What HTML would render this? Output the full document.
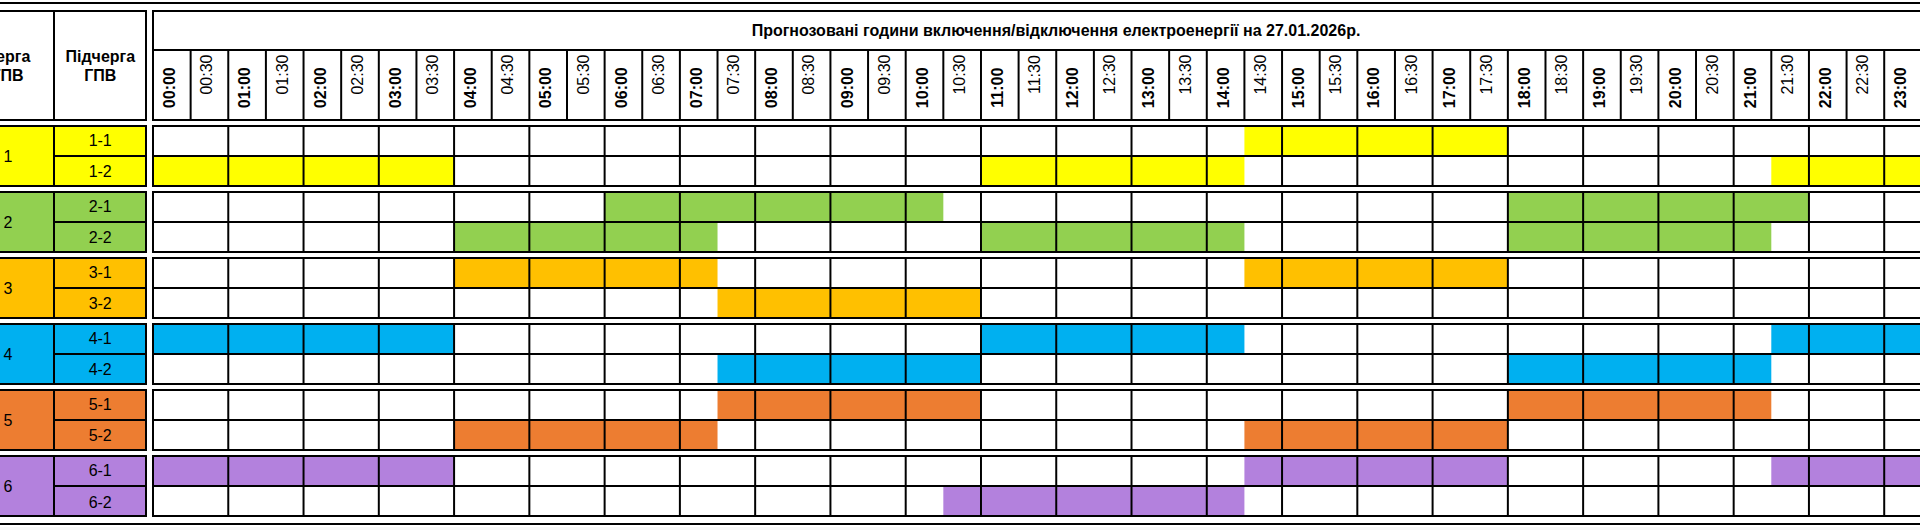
<!DOCTYPE html>
<html lang="uk"><head><meta charset="utf-8"><title>Графік погодинних відключень</title>
<style>
html,body{margin:0;padding:0;background:#fff;}
body{width:1920px;height:530px;overflow:hidden;position:relative;font-family:"Liberation Sans",Arial,sans-serif;}
svg{position:absolute;left:0;top:0;display:block}
text{font-family:"Liberation Sans",Arial,sans-serif;font-size:16px;fill:#000}
.b{font-weight:bold;fill:#000}
.ln{stroke:#000;stroke-width:2;fill:none}
</style></head><body>
<svg width="1920" height="530" viewBox="0 0 1920 530">
<rect x="0" y="0" width="1920" height="530" fill="#fff"/>
<rect x="0" y="527" width="1920" height="3" fill="#f7f7f7"/>
<rect x="-40" y="126.0" width="186" height="60" fill="#FFFF00"/>
<rect x="1244.41" y="126.0" width="263.44" height="30" fill="#FFFF00"/>
<rect x="153.00" y="156.0" width="301.08" height="30" fill="#FFFF00"/>
<rect x="980.97" y="156.0" width="263.45" height="30" fill="#FFFF00"/>
<rect x="1771.30" y="156.0" width="188.18" height="30" fill="#FFFF00"/>
<rect x="-40" y="192.0" width="186" height="60" fill="#92D050"/>
<rect x="604.62" y="192.0" width="338.71" height="30" fill="#92D050"/>
<rect x="1507.86" y="192.0" width="301.08" height="30" fill="#92D050"/>
<rect x="454.08" y="222.0" width="263.44" height="30" fill="#92D050"/>
<rect x="980.97" y="222.0" width="263.45" height="30" fill="#92D050"/>
<rect x="1507.86" y="222.0" width="263.44" height="30" fill="#92D050"/>
<rect x="-40" y="258.0" width="186" height="60" fill="#FFC000"/>
<rect x="454.08" y="258.0" width="263.44" height="30" fill="#FFC000"/>
<rect x="1244.41" y="258.0" width="263.44" height="30" fill="#FFC000"/>
<rect x="717.52" y="288.0" width="263.44" height="30" fill="#FFC000"/>
<rect x="-40" y="324.0" width="186" height="60" fill="#00B0F0"/>
<rect x="153.00" y="324.0" width="301.08" height="30" fill="#00B0F0"/>
<rect x="980.97" y="324.0" width="263.45" height="30" fill="#00B0F0"/>
<rect x="1771.30" y="324.0" width="188.18" height="30" fill="#00B0F0"/>
<rect x="717.52" y="354.0" width="263.44" height="30" fill="#00B0F0"/>
<rect x="1507.86" y="354.0" width="263.44" height="30" fill="#00B0F0"/>
<rect x="-40" y="390.0" width="186" height="60" fill="#ED7D31"/>
<rect x="717.52" y="390.0" width="263.44" height="30" fill="#ED7D31"/>
<rect x="1507.86" y="390.0" width="263.44" height="30" fill="#ED7D31"/>
<rect x="454.08" y="420.0" width="263.44" height="30" fill="#ED7D31"/>
<rect x="1244.41" y="420.0" width="263.44" height="30" fill="#ED7D31"/>
<rect x="-40" y="456.0" width="186" height="60" fill="#B381DD"/>
<rect x="153.00" y="456.0" width="301.08" height="30" fill="#B381DD"/>
<rect x="1244.41" y="456.0" width="263.44" height="30" fill="#B381DD"/>
<rect x="1771.30" y="456.0" width="188.18" height="30" fill="#B381DD"/>
<rect x="943.33" y="486.0" width="301.08" height="30" fill="#B381DD"/>
<line class="ln" x1="-10" y1="3" x2="1930" y2="3"/>
<line class="ln" x1="-10" y1="524" x2="1930" y2="524"/>
<line class="ln" x1="-10" y1="11" x2="147" y2="11"/>
<line class="ln" x1="-10" y1="120" x2="147" y2="120"/>
<line class="ln" x1="54.00" y1="10" x2="54.00" y2="121"/>
<line class="ln" x1="146.00" y1="10" x2="146.00" y2="121"/>
<line class="ln" x1="152" y1="11" x2="1930" y2="11"/>
<line class="ln" x1="152" y1="50" x2="1930" y2="50"/>
<line class="ln" x1="152" y1="120" x2="1930" y2="120"/>
<line class="ln" x1="153.00" y1="10" x2="153.00" y2="121"/>
<line class="ln" x1="190.63" y1="50" x2="190.63" y2="121"/>
<line class="ln" x1="228.27" y1="50" x2="228.27" y2="121"/>
<line class="ln" x1="265.90" y1="50" x2="265.90" y2="121"/>
<line class="ln" x1="303.54" y1="50" x2="303.54" y2="121"/>
<line class="ln" x1="341.17" y1="50" x2="341.17" y2="121"/>
<line class="ln" x1="378.81" y1="50" x2="378.81" y2="121"/>
<line class="ln" x1="416.44" y1="50" x2="416.44" y2="121"/>
<line class="ln" x1="454.08" y1="50" x2="454.08" y2="121"/>
<line class="ln" x1="491.71" y1="50" x2="491.71" y2="121"/>
<line class="ln" x1="529.35" y1="50" x2="529.35" y2="121"/>
<line class="ln" x1="566.98" y1="50" x2="566.98" y2="121"/>
<line class="ln" x1="604.62" y1="50" x2="604.62" y2="121"/>
<line class="ln" x1="642.25" y1="50" x2="642.25" y2="121"/>
<line class="ln" x1="679.89" y1="50" x2="679.89" y2="121"/>
<line class="ln" x1="717.52" y1="50" x2="717.52" y2="121"/>
<line class="ln" x1="755.16" y1="50" x2="755.16" y2="121"/>
<line class="ln" x1="792.79" y1="50" x2="792.79" y2="121"/>
<line class="ln" x1="830.43" y1="50" x2="830.43" y2="121"/>
<line class="ln" x1="868.06" y1="50" x2="868.06" y2="121"/>
<line class="ln" x1="905.70" y1="50" x2="905.70" y2="121"/>
<line class="ln" x1="943.33" y1="50" x2="943.33" y2="121"/>
<line class="ln" x1="980.97" y1="50" x2="980.97" y2="121"/>
<line class="ln" x1="1018.60" y1="50" x2="1018.60" y2="121"/>
<line class="ln" x1="1056.24" y1="50" x2="1056.24" y2="121"/>
<line class="ln" x1="1093.88" y1="50" x2="1093.88" y2="121"/>
<line class="ln" x1="1131.51" y1="50" x2="1131.51" y2="121"/>
<line class="ln" x1="1169.14" y1="50" x2="1169.14" y2="121"/>
<line class="ln" x1="1206.78" y1="50" x2="1206.78" y2="121"/>
<line class="ln" x1="1244.41" y1="50" x2="1244.41" y2="121"/>
<line class="ln" x1="1282.05" y1="50" x2="1282.05" y2="121"/>
<line class="ln" x1="1319.68" y1="50" x2="1319.68" y2="121"/>
<line class="ln" x1="1357.32" y1="50" x2="1357.32" y2="121"/>
<line class="ln" x1="1394.95" y1="50" x2="1394.95" y2="121"/>
<line class="ln" x1="1432.59" y1="50" x2="1432.59" y2="121"/>
<line class="ln" x1="1470.22" y1="50" x2="1470.22" y2="121"/>
<line class="ln" x1="1507.86" y1="50" x2="1507.86" y2="121"/>
<line class="ln" x1="1545.49" y1="50" x2="1545.49" y2="121"/>
<line class="ln" x1="1583.13" y1="50" x2="1583.13" y2="121"/>
<line class="ln" x1="1620.76" y1="50" x2="1620.76" y2="121"/>
<line class="ln" x1="1658.40" y1="50" x2="1658.40" y2="121"/>
<line class="ln" x1="1696.03" y1="50" x2="1696.03" y2="121"/>
<line class="ln" x1="1733.67" y1="50" x2="1733.67" y2="121"/>
<line class="ln" x1="1771.30" y1="50" x2="1771.30" y2="121"/>
<line class="ln" x1="1808.94" y1="50" x2="1808.94" y2="121"/>
<line class="ln" x1="1846.57" y1="50" x2="1846.57" y2="121"/>
<line class="ln" x1="1884.21" y1="50" x2="1884.21" y2="121"/>
<line class="ln" x1="1921.84" y1="50" x2="1921.84" y2="121"/>
<line class="ln" x1="-10" y1="126.0" x2="147" y2="126.0"/>
<line class="ln" x1="-10" y1="186.0" x2="147" y2="186.0"/>
<line class="ln" x1="54" y1="156.0" x2="147" y2="156.0"/>
<line class="ln" x1="54.00" y1="125.0" x2="54.00" y2="187.0"/>
<line class="ln" x1="146.00" y1="125.0" x2="146.00" y2="187.0"/>
<line class="ln" x1="152" y1="126.0" x2="1930" y2="126.0"/>
<line class="ln" x1="152" y1="156.0" x2="1930" y2="156.0"/>
<line class="ln" x1="152" y1="186.0" x2="1930" y2="186.0"/>
<line class="ln" x1="153.00" y1="125.0" x2="153.00" y2="187.0"/>
<line class="ln" x1="228.27" y1="125.0" x2="228.27" y2="187.0"/>
<line class="ln" x1="303.54" y1="125.0" x2="303.54" y2="187.0"/>
<line class="ln" x1="378.81" y1="125.0" x2="378.81" y2="187.0"/>
<line class="ln" x1="454.08" y1="125.0" x2="454.08" y2="187.0"/>
<line class="ln" x1="529.35" y1="125.0" x2="529.35" y2="187.0"/>
<line class="ln" x1="604.62" y1="125.0" x2="604.62" y2="187.0"/>
<line class="ln" x1="679.89" y1="125.0" x2="679.89" y2="187.0"/>
<line class="ln" x1="755.16" y1="125.0" x2="755.16" y2="187.0"/>
<line class="ln" x1="830.43" y1="125.0" x2="830.43" y2="187.0"/>
<line class="ln" x1="905.70" y1="125.0" x2="905.70" y2="187.0"/>
<line class="ln" x1="980.97" y1="125.0" x2="980.97" y2="187.0"/>
<line class="ln" x1="1056.24" y1="125.0" x2="1056.24" y2="187.0"/>
<line class="ln" x1="1131.51" y1="125.0" x2="1131.51" y2="187.0"/>
<line class="ln" x1="1206.78" y1="125.0" x2="1206.78" y2="187.0"/>
<line class="ln" x1="1282.05" y1="125.0" x2="1282.05" y2="187.0"/>
<line class="ln" x1="1357.32" y1="125.0" x2="1357.32" y2="187.0"/>
<line class="ln" x1="1432.59" y1="125.0" x2="1432.59" y2="187.0"/>
<line class="ln" x1="1507.86" y1="125.0" x2="1507.86" y2="187.0"/>
<line class="ln" x1="1583.13" y1="125.0" x2="1583.13" y2="187.0"/>
<line class="ln" x1="1658.40" y1="125.0" x2="1658.40" y2="187.0"/>
<line class="ln" x1="1733.67" y1="125.0" x2="1733.67" y2="187.0"/>
<line class="ln" x1="1808.94" y1="125.0" x2="1808.94" y2="187.0"/>
<line class="ln" x1="1884.21" y1="125.0" x2="1884.21" y2="187.0"/>
<line class="ln" x1="1959.48" y1="125.0" x2="1959.48" y2="187.0"/>
<line class="ln" x1="-10" y1="192.0" x2="147" y2="192.0"/>
<line class="ln" x1="-10" y1="252.0" x2="147" y2="252.0"/>
<line class="ln" x1="54" y1="222.0" x2="147" y2="222.0"/>
<line class="ln" x1="54.00" y1="191.0" x2="54.00" y2="253.0"/>
<line class="ln" x1="146.00" y1="191.0" x2="146.00" y2="253.0"/>
<line class="ln" x1="152" y1="192.0" x2="1930" y2="192.0"/>
<line class="ln" x1="152" y1="222.0" x2="1930" y2="222.0"/>
<line class="ln" x1="152" y1="252.0" x2="1930" y2="252.0"/>
<line class="ln" x1="153.00" y1="191.0" x2="153.00" y2="253.0"/>
<line class="ln" x1="228.27" y1="191.0" x2="228.27" y2="253.0"/>
<line class="ln" x1="303.54" y1="191.0" x2="303.54" y2="253.0"/>
<line class="ln" x1="378.81" y1="191.0" x2="378.81" y2="253.0"/>
<line class="ln" x1="454.08" y1="191.0" x2="454.08" y2="253.0"/>
<line class="ln" x1="529.35" y1="191.0" x2="529.35" y2="253.0"/>
<line class="ln" x1="604.62" y1="191.0" x2="604.62" y2="253.0"/>
<line class="ln" x1="679.89" y1="191.0" x2="679.89" y2="253.0"/>
<line class="ln" x1="755.16" y1="191.0" x2="755.16" y2="253.0"/>
<line class="ln" x1="830.43" y1="191.0" x2="830.43" y2="253.0"/>
<line class="ln" x1="905.70" y1="191.0" x2="905.70" y2="253.0"/>
<line class="ln" x1="980.97" y1="191.0" x2="980.97" y2="253.0"/>
<line class="ln" x1="1056.24" y1="191.0" x2="1056.24" y2="253.0"/>
<line class="ln" x1="1131.51" y1="191.0" x2="1131.51" y2="253.0"/>
<line class="ln" x1="1206.78" y1="191.0" x2="1206.78" y2="253.0"/>
<line class="ln" x1="1282.05" y1="191.0" x2="1282.05" y2="253.0"/>
<line class="ln" x1="1357.32" y1="191.0" x2="1357.32" y2="253.0"/>
<line class="ln" x1="1432.59" y1="191.0" x2="1432.59" y2="253.0"/>
<line class="ln" x1="1507.86" y1="191.0" x2="1507.86" y2="253.0"/>
<line class="ln" x1="1583.13" y1="191.0" x2="1583.13" y2="253.0"/>
<line class="ln" x1="1658.40" y1="191.0" x2="1658.40" y2="253.0"/>
<line class="ln" x1="1733.67" y1="191.0" x2="1733.67" y2="253.0"/>
<line class="ln" x1="1808.94" y1="191.0" x2="1808.94" y2="253.0"/>
<line class="ln" x1="1884.21" y1="191.0" x2="1884.21" y2="253.0"/>
<line class="ln" x1="1959.48" y1="191.0" x2="1959.48" y2="253.0"/>
<line class="ln" x1="-10" y1="258.0" x2="147" y2="258.0"/>
<line class="ln" x1="-10" y1="318.0" x2="147" y2="318.0"/>
<line class="ln" x1="54" y1="288.0" x2="147" y2="288.0"/>
<line class="ln" x1="54.00" y1="257.0" x2="54.00" y2="319.0"/>
<line class="ln" x1="146.00" y1="257.0" x2="146.00" y2="319.0"/>
<line class="ln" x1="152" y1="258.0" x2="1930" y2="258.0"/>
<line class="ln" x1="152" y1="288.0" x2="1930" y2="288.0"/>
<line class="ln" x1="152" y1="318.0" x2="1930" y2="318.0"/>
<line class="ln" x1="153.00" y1="257.0" x2="153.00" y2="319.0"/>
<line class="ln" x1="228.27" y1="257.0" x2="228.27" y2="319.0"/>
<line class="ln" x1="303.54" y1="257.0" x2="303.54" y2="319.0"/>
<line class="ln" x1="378.81" y1="257.0" x2="378.81" y2="319.0"/>
<line class="ln" x1="454.08" y1="257.0" x2="454.08" y2="319.0"/>
<line class="ln" x1="529.35" y1="257.0" x2="529.35" y2="319.0"/>
<line class="ln" x1="604.62" y1="257.0" x2="604.62" y2="319.0"/>
<line class="ln" x1="679.89" y1="257.0" x2="679.89" y2="319.0"/>
<line class="ln" x1="755.16" y1="257.0" x2="755.16" y2="319.0"/>
<line class="ln" x1="830.43" y1="257.0" x2="830.43" y2="319.0"/>
<line class="ln" x1="905.70" y1="257.0" x2="905.70" y2="319.0"/>
<line class="ln" x1="980.97" y1="257.0" x2="980.97" y2="319.0"/>
<line class="ln" x1="1056.24" y1="257.0" x2="1056.24" y2="319.0"/>
<line class="ln" x1="1131.51" y1="257.0" x2="1131.51" y2="319.0"/>
<line class="ln" x1="1206.78" y1="257.0" x2="1206.78" y2="319.0"/>
<line class="ln" x1="1282.05" y1="257.0" x2="1282.05" y2="319.0"/>
<line class="ln" x1="1357.32" y1="257.0" x2="1357.32" y2="319.0"/>
<line class="ln" x1="1432.59" y1="257.0" x2="1432.59" y2="319.0"/>
<line class="ln" x1="1507.86" y1="257.0" x2="1507.86" y2="319.0"/>
<line class="ln" x1="1583.13" y1="257.0" x2="1583.13" y2="319.0"/>
<line class="ln" x1="1658.40" y1="257.0" x2="1658.40" y2="319.0"/>
<line class="ln" x1="1733.67" y1="257.0" x2="1733.67" y2="319.0"/>
<line class="ln" x1="1808.94" y1="257.0" x2="1808.94" y2="319.0"/>
<line class="ln" x1="1884.21" y1="257.0" x2="1884.21" y2="319.0"/>
<line class="ln" x1="1959.48" y1="257.0" x2="1959.48" y2="319.0"/>
<line class="ln" x1="-10" y1="324.0" x2="147" y2="324.0"/>
<line class="ln" x1="-10" y1="384.0" x2="147" y2="384.0"/>
<line class="ln" x1="54" y1="354.0" x2="147" y2="354.0"/>
<line class="ln" x1="54.00" y1="323.0" x2="54.00" y2="385.0"/>
<line class="ln" x1="146.00" y1="323.0" x2="146.00" y2="385.0"/>
<line class="ln" x1="152" y1="324.0" x2="1930" y2="324.0"/>
<line class="ln" x1="152" y1="354.0" x2="1930" y2="354.0"/>
<line class="ln" x1="152" y1="384.0" x2="1930" y2="384.0"/>
<line class="ln" x1="153.00" y1="323.0" x2="153.00" y2="385.0"/>
<line class="ln" x1="228.27" y1="323.0" x2="228.27" y2="385.0"/>
<line class="ln" x1="303.54" y1="323.0" x2="303.54" y2="385.0"/>
<line class="ln" x1="378.81" y1="323.0" x2="378.81" y2="385.0"/>
<line class="ln" x1="454.08" y1="323.0" x2="454.08" y2="385.0"/>
<line class="ln" x1="529.35" y1="323.0" x2="529.35" y2="385.0"/>
<line class="ln" x1="604.62" y1="323.0" x2="604.62" y2="385.0"/>
<line class="ln" x1="679.89" y1="323.0" x2="679.89" y2="385.0"/>
<line class="ln" x1="755.16" y1="323.0" x2="755.16" y2="385.0"/>
<line class="ln" x1="830.43" y1="323.0" x2="830.43" y2="385.0"/>
<line class="ln" x1="905.70" y1="323.0" x2="905.70" y2="385.0"/>
<line class="ln" x1="980.97" y1="323.0" x2="980.97" y2="385.0"/>
<line class="ln" x1="1056.24" y1="323.0" x2="1056.24" y2="385.0"/>
<line class="ln" x1="1131.51" y1="323.0" x2="1131.51" y2="385.0"/>
<line class="ln" x1="1206.78" y1="323.0" x2="1206.78" y2="385.0"/>
<line class="ln" x1="1282.05" y1="323.0" x2="1282.05" y2="385.0"/>
<line class="ln" x1="1357.32" y1="323.0" x2="1357.32" y2="385.0"/>
<line class="ln" x1="1432.59" y1="323.0" x2="1432.59" y2="385.0"/>
<line class="ln" x1="1507.86" y1="323.0" x2="1507.86" y2="385.0"/>
<line class="ln" x1="1583.13" y1="323.0" x2="1583.13" y2="385.0"/>
<line class="ln" x1="1658.40" y1="323.0" x2="1658.40" y2="385.0"/>
<line class="ln" x1="1733.67" y1="323.0" x2="1733.67" y2="385.0"/>
<line class="ln" x1="1808.94" y1="323.0" x2="1808.94" y2="385.0"/>
<line class="ln" x1="1884.21" y1="323.0" x2="1884.21" y2="385.0"/>
<line class="ln" x1="1959.48" y1="323.0" x2="1959.48" y2="385.0"/>
<line class="ln" x1="-10" y1="390.0" x2="147" y2="390.0"/>
<line class="ln" x1="-10" y1="450.0" x2="147" y2="450.0"/>
<line class="ln" x1="54" y1="420.0" x2="147" y2="420.0"/>
<line class="ln" x1="54.00" y1="389.0" x2="54.00" y2="451.0"/>
<line class="ln" x1="146.00" y1="389.0" x2="146.00" y2="451.0"/>
<line class="ln" x1="152" y1="390.0" x2="1930" y2="390.0"/>
<line class="ln" x1="152" y1="420.0" x2="1930" y2="420.0"/>
<line class="ln" x1="152" y1="450.0" x2="1930" y2="450.0"/>
<line class="ln" x1="153.00" y1="389.0" x2="153.00" y2="451.0"/>
<line class="ln" x1="228.27" y1="389.0" x2="228.27" y2="451.0"/>
<line class="ln" x1="303.54" y1="389.0" x2="303.54" y2="451.0"/>
<line class="ln" x1="378.81" y1="389.0" x2="378.81" y2="451.0"/>
<line class="ln" x1="454.08" y1="389.0" x2="454.08" y2="451.0"/>
<line class="ln" x1="529.35" y1="389.0" x2="529.35" y2="451.0"/>
<line class="ln" x1="604.62" y1="389.0" x2="604.62" y2="451.0"/>
<line class="ln" x1="679.89" y1="389.0" x2="679.89" y2="451.0"/>
<line class="ln" x1="755.16" y1="389.0" x2="755.16" y2="451.0"/>
<line class="ln" x1="830.43" y1="389.0" x2="830.43" y2="451.0"/>
<line class="ln" x1="905.70" y1="389.0" x2="905.70" y2="451.0"/>
<line class="ln" x1="980.97" y1="389.0" x2="980.97" y2="451.0"/>
<line class="ln" x1="1056.24" y1="389.0" x2="1056.24" y2="451.0"/>
<line class="ln" x1="1131.51" y1="389.0" x2="1131.51" y2="451.0"/>
<line class="ln" x1="1206.78" y1="389.0" x2="1206.78" y2="451.0"/>
<line class="ln" x1="1282.05" y1="389.0" x2="1282.05" y2="451.0"/>
<line class="ln" x1="1357.32" y1="389.0" x2="1357.32" y2="451.0"/>
<line class="ln" x1="1432.59" y1="389.0" x2="1432.59" y2="451.0"/>
<line class="ln" x1="1507.86" y1="389.0" x2="1507.86" y2="451.0"/>
<line class="ln" x1="1583.13" y1="389.0" x2="1583.13" y2="451.0"/>
<line class="ln" x1="1658.40" y1="389.0" x2="1658.40" y2="451.0"/>
<line class="ln" x1="1733.67" y1="389.0" x2="1733.67" y2="451.0"/>
<line class="ln" x1="1808.94" y1="389.0" x2="1808.94" y2="451.0"/>
<line class="ln" x1="1884.21" y1="389.0" x2="1884.21" y2="451.0"/>
<line class="ln" x1="1959.48" y1="389.0" x2="1959.48" y2="451.0"/>
<line class="ln" x1="-10" y1="456.0" x2="147" y2="456.0"/>
<line class="ln" x1="-10" y1="516.0" x2="147" y2="516.0"/>
<line class="ln" x1="54" y1="486.0" x2="147" y2="486.0"/>
<line class="ln" x1="54.00" y1="455.0" x2="54.00" y2="517.0"/>
<line class="ln" x1="146.00" y1="455.0" x2="146.00" y2="517.0"/>
<line class="ln" x1="152" y1="456.0" x2="1930" y2="456.0"/>
<line class="ln" x1="152" y1="486.0" x2="1930" y2="486.0"/>
<line class="ln" x1="152" y1="516.0" x2="1930" y2="516.0"/>
<line class="ln" x1="153.00" y1="455.0" x2="153.00" y2="517.0"/>
<line class="ln" x1="228.27" y1="455.0" x2="228.27" y2="517.0"/>
<line class="ln" x1="303.54" y1="455.0" x2="303.54" y2="517.0"/>
<line class="ln" x1="378.81" y1="455.0" x2="378.81" y2="517.0"/>
<line class="ln" x1="454.08" y1="455.0" x2="454.08" y2="517.0"/>
<line class="ln" x1="529.35" y1="455.0" x2="529.35" y2="517.0"/>
<line class="ln" x1="604.62" y1="455.0" x2="604.62" y2="517.0"/>
<line class="ln" x1="679.89" y1="455.0" x2="679.89" y2="517.0"/>
<line class="ln" x1="755.16" y1="455.0" x2="755.16" y2="517.0"/>
<line class="ln" x1="830.43" y1="455.0" x2="830.43" y2="517.0"/>
<line class="ln" x1="905.70" y1="455.0" x2="905.70" y2="517.0"/>
<line class="ln" x1="980.97" y1="455.0" x2="980.97" y2="517.0"/>
<line class="ln" x1="1056.24" y1="455.0" x2="1056.24" y2="517.0"/>
<line class="ln" x1="1131.51" y1="455.0" x2="1131.51" y2="517.0"/>
<line class="ln" x1="1206.78" y1="455.0" x2="1206.78" y2="517.0"/>
<line class="ln" x1="1282.05" y1="455.0" x2="1282.05" y2="517.0"/>
<line class="ln" x1="1357.32" y1="455.0" x2="1357.32" y2="517.0"/>
<line class="ln" x1="1432.59" y1="455.0" x2="1432.59" y2="517.0"/>
<line class="ln" x1="1507.86" y1="455.0" x2="1507.86" y2="517.0"/>
<line class="ln" x1="1583.13" y1="455.0" x2="1583.13" y2="517.0"/>
<line class="ln" x1="1658.40" y1="455.0" x2="1658.40" y2="517.0"/>
<line class="ln" x1="1733.67" y1="455.0" x2="1733.67" y2="517.0"/>
<line class="ln" x1="1808.94" y1="455.0" x2="1808.94" y2="517.0"/>
<line class="ln" x1="1884.21" y1="455.0" x2="1884.21" y2="517.0"/>
<line class="ln" x1="1959.48" y1="455.0" x2="1959.48" y2="517.0"/>
<text class="b" x="7.6" y="61.5" text-anchor="middle">Черга</text>
<text class="b" x="7.6" y="80.5" text-anchor="middle">ГПВ</text>
<text class="b" x="100.3" y="61.5" text-anchor="middle">Підчерга</text>
<text class="b" x="100.3" y="80.5" text-anchor="middle">ГПВ</text>
<text class="b" x="1056" y="36.2" text-anchor="middle">Прогнозовані години включення/відключення електроенергії на 27.01.2026р.</text>
<text class="b" transform="translate(175.12,87.7) rotate(-90)" text-anchor="middle">00:00</text>
<text transform="translate(212.25,74.6) rotate(-90)" text-anchor="middle">00:30</text>
<text class="b" transform="translate(250.39,87.7) rotate(-90)" text-anchor="middle">01:00</text>
<text transform="translate(287.52,74.6) rotate(-90)" text-anchor="middle">01:30</text>
<text class="b" transform="translate(325.66,87.7) rotate(-90)" text-anchor="middle">02:00</text>
<text transform="translate(362.79,74.6) rotate(-90)" text-anchor="middle">02:30</text>
<text class="b" transform="translate(400.93,87.7) rotate(-90)" text-anchor="middle">03:00</text>
<text transform="translate(438.06,74.6) rotate(-90)" text-anchor="middle">03:30</text>
<text class="b" transform="translate(476.20,87.7) rotate(-90)" text-anchor="middle">04:00</text>
<text transform="translate(513.33,74.6) rotate(-90)" text-anchor="middle">04:30</text>
<text class="b" transform="translate(551.47,87.7) rotate(-90)" text-anchor="middle">05:00</text>
<text transform="translate(588.60,74.6) rotate(-90)" text-anchor="middle">05:30</text>
<text class="b" transform="translate(626.74,87.7) rotate(-90)" text-anchor="middle">06:00</text>
<text transform="translate(663.87,74.6) rotate(-90)" text-anchor="middle">06:30</text>
<text class="b" transform="translate(702.01,87.7) rotate(-90)" text-anchor="middle">07:00</text>
<text transform="translate(739.14,74.6) rotate(-90)" text-anchor="middle">07:30</text>
<text class="b" transform="translate(777.28,87.7) rotate(-90)" text-anchor="middle">08:00</text>
<text transform="translate(814.41,74.6) rotate(-90)" text-anchor="middle">08:30</text>
<text class="b" transform="translate(852.55,87.7) rotate(-90)" text-anchor="middle">09:00</text>
<text transform="translate(889.68,74.6) rotate(-90)" text-anchor="middle">09:30</text>
<text class="b" transform="translate(927.82,87.7) rotate(-90)" text-anchor="middle">10:00</text>
<text transform="translate(964.95,74.6) rotate(-90)" text-anchor="middle">10:30</text>
<text class="b" transform="translate(1003.09,87.7) rotate(-90)" text-anchor="middle">11:00</text>
<text transform="translate(1040.22,74.6) rotate(-90)" text-anchor="middle">11:30</text>
<text class="b" transform="translate(1078.36,87.7) rotate(-90)" text-anchor="middle">12:00</text>
<text transform="translate(1115.49,74.6) rotate(-90)" text-anchor="middle">12:30</text>
<text class="b" transform="translate(1153.63,87.7) rotate(-90)" text-anchor="middle">13:00</text>
<text transform="translate(1190.76,74.6) rotate(-90)" text-anchor="middle">13:30</text>
<text class="b" transform="translate(1228.90,87.7) rotate(-90)" text-anchor="middle">14:00</text>
<text transform="translate(1266.03,74.6) rotate(-90)" text-anchor="middle">14:30</text>
<text class="b" transform="translate(1304.17,87.7) rotate(-90)" text-anchor="middle">15:00</text>
<text transform="translate(1341.30,74.6) rotate(-90)" text-anchor="middle">15:30</text>
<text class="b" transform="translate(1379.44,87.7) rotate(-90)" text-anchor="middle">16:00</text>
<text transform="translate(1416.57,74.6) rotate(-90)" text-anchor="middle">16:30</text>
<text class="b" transform="translate(1454.71,87.7) rotate(-90)" text-anchor="middle">17:00</text>
<text transform="translate(1491.84,74.6) rotate(-90)" text-anchor="middle">17:30</text>
<text class="b" transform="translate(1529.98,87.7) rotate(-90)" text-anchor="middle">18:00</text>
<text transform="translate(1567.11,74.6) rotate(-90)" text-anchor="middle">18:30</text>
<text class="b" transform="translate(1605.25,87.7) rotate(-90)" text-anchor="middle">19:00</text>
<text transform="translate(1642.38,74.6) rotate(-90)" text-anchor="middle">19:30</text>
<text class="b" transform="translate(1680.52,87.7) rotate(-90)" text-anchor="middle">20:00</text>
<text transform="translate(1717.65,74.6) rotate(-90)" text-anchor="middle">20:30</text>
<text class="b" transform="translate(1755.79,87.7) rotate(-90)" text-anchor="middle">21:00</text>
<text transform="translate(1792.92,74.6) rotate(-90)" text-anchor="middle">21:30</text>
<text class="b" transform="translate(1831.06,87.7) rotate(-90)" text-anchor="middle">22:00</text>
<text transform="translate(1868.19,74.6) rotate(-90)" text-anchor="middle">22:30</text>
<text class="b" transform="translate(1906.33,87.7) rotate(-90)" text-anchor="middle">23:00</text>
<text transform="translate(1943.46,74.6) rotate(-90)" text-anchor="middle">23:30</text>
<text x="7.9" y="161.7" text-anchor="middle">1</text>
<text x="100.2" y="145.5" text-anchor="middle">1-1</text>
<text x="100.2" y="177.1" text-anchor="middle">1-2</text>
<text x="7.9" y="227.7" text-anchor="middle">2</text>
<text x="100.2" y="211.5" text-anchor="middle">2-1</text>
<text x="100.2" y="243.1" text-anchor="middle">2-2</text>
<text x="7.9" y="293.7" text-anchor="middle">3</text>
<text x="100.2" y="277.5" text-anchor="middle">3-1</text>
<text x="100.2" y="309.1" text-anchor="middle">3-2</text>
<text x="7.9" y="359.7" text-anchor="middle">4</text>
<text x="100.2" y="343.5" text-anchor="middle">4-1</text>
<text x="100.2" y="375.1" text-anchor="middle">4-2</text>
<text x="7.9" y="425.7" text-anchor="middle">5</text>
<text x="100.2" y="409.5" text-anchor="middle">5-1</text>
<text x="100.2" y="441.1" text-anchor="middle">5-2</text>
<text x="7.9" y="491.7" text-anchor="middle">6</text>
<text x="100.2" y="476.4" text-anchor="middle">6-1</text>
<text x="100.2" y="507.5" text-anchor="middle">6-2</text>
</svg></body></html>
